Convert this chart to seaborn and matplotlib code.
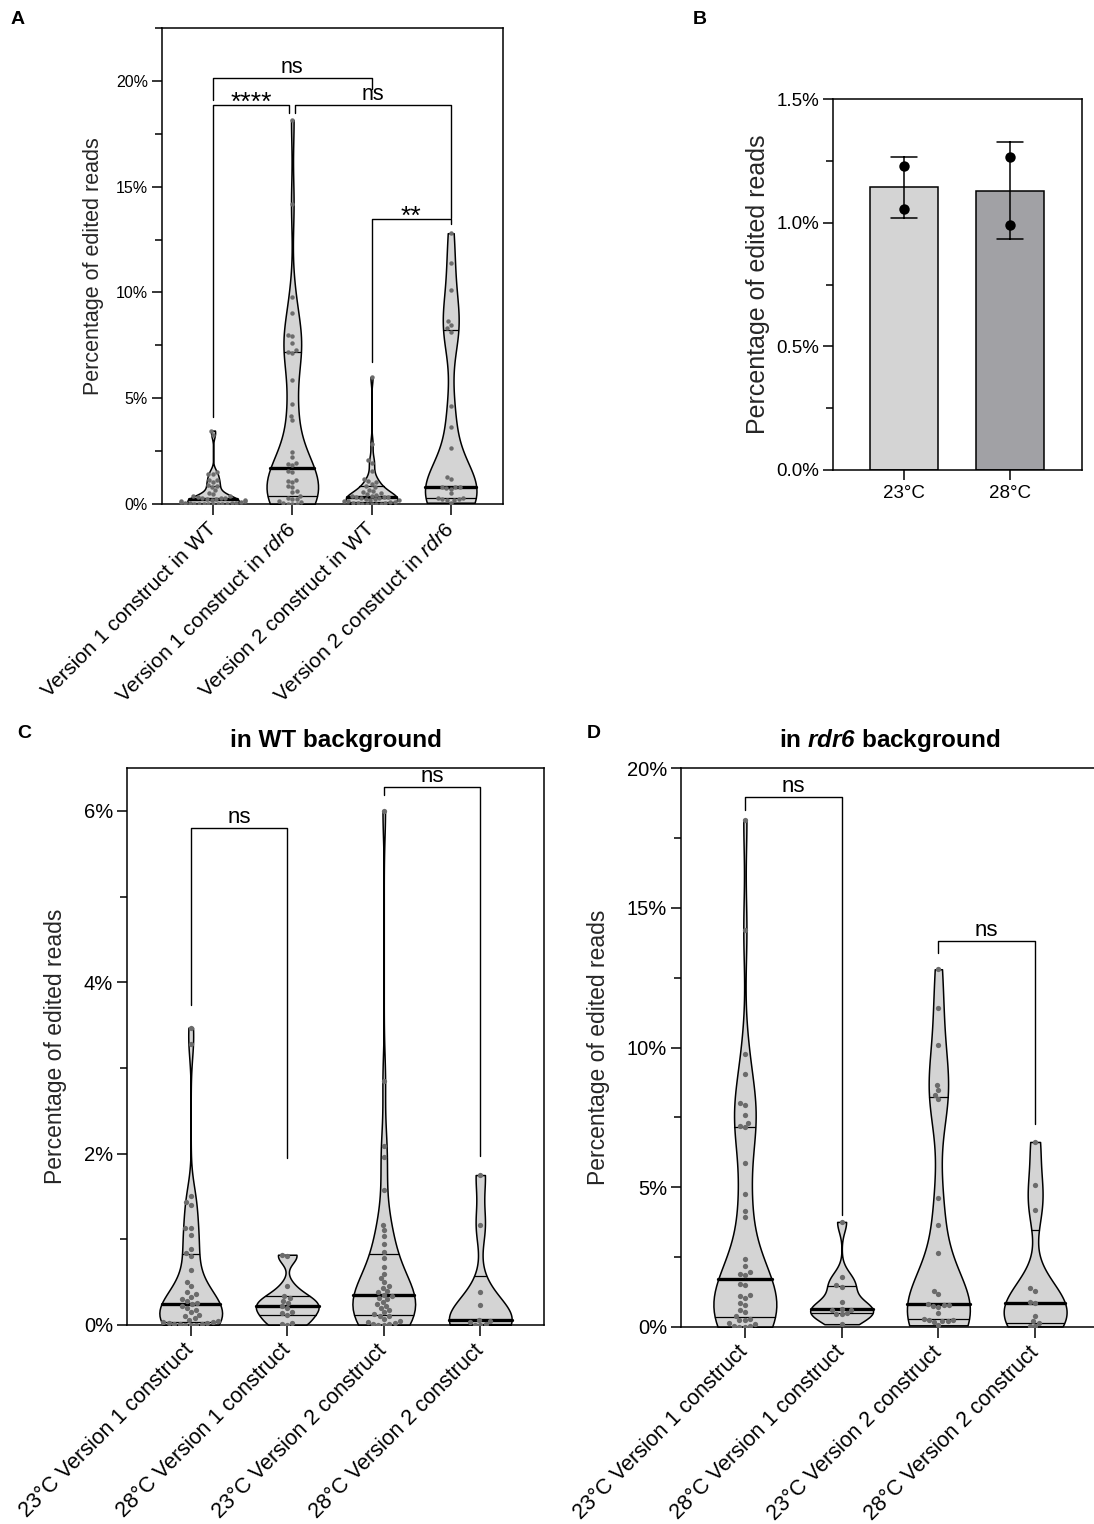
import numpy as np
import pandas as pd
import matplotlib
matplotlib.use('Agg')
import matplotlib.pyplot as plt
from matplotlib.ticker import MultipleLocator, FuncFormatter
import seaborn as sns

# percentage of edited reads (values in %)
wt_23_v1 = [0, 0, 0, 0.01, 0.01, 0.01, 0.02, 0.02, 0.03, 0.03,
            0.05, 0.06, 0.08, 0.10, 0.12, 0.15, 0.18, 0.20, 0.22, 0.24,
            0.26, 0.28, 0.30, 0.33, 0.36, 0.38, 0.45, 0.50, 0.64, 0.80,
            0.84, 0.89, 1.05, 1.13, 1.13, 1.40, 1.43, 1.50, 3.28, 3.47]
wt_28_v1 = [0.0, 0.01, 0.02, 0.12, 0.14, 0.15, 0.20, 0.22, 0.26, 0.28,
            0.32, 0.34, 0.45, 0.80, 0.82]
wt_23_v2 = [0.00, 0.00, 0.01, 0.01, 0.02, 0.03, 0.05, 0.07, 0.10, 0.11,
            0.13, 0.15, 0.17, 0.20, 0.22, 0.25, 0.27, 0.30, 0.32, 0.34,
            0.35, 0.38, 0.40, 0.43, 0.46, 0.50, 0.55, 0.60, 0.68, 0.78,
            0.85, 0.95, 1.04, 1.11, 1.17, 1.58, 1.96, 2.09, 2.85, 6.00]
wt_28_v2 = [0.0, 0.0, 0.01, 0.03, 0.05, 0.06, 0.23, 0.38, 1.17, 1.75]

rdr6_23_v1 = [0, 0, 0.02, 0.05, 0.1, 0.15, 0.24, 0.25, 0.3, 0.4,
              0.55, 0.6, 0.78, 0.86, 1.05, 1.1, 1.15, 1.5, 1.55, 1.85,
              1.9, 1.95, 2.2, 2.45, 3.95, 4.15, 4.75, 5.85, 7.15, 7.2,
              7.3, 7.6, 7.95, 8.0, 9.05, 9.77, 14.2, 18.15]
rdr6_28_v1 = [0.1, 0.45, 0.48, 0.5, 0.6, 0.62, 0.66, 0.9, 1.43, 1.5, 1.79, 3.76]
rdr6_23_v2 = [0.06, 0.18, 0.2, 0.22, 0.24, 0.26, 0.3, 0.5, 0.72, 0.76, 0.78,
              0.8, 0.82, 1.19, 1.29, 2.63, 3.64, 4.62, 8.15, 8.3, 8.47, 8.65,
              10.1, 11.4, 12.8]
rdr6_28_v2 = [0.02, 0.05, 0.14, 0.2, 0.39, 0.85, 0.9, 1.28, 1.38, 4.18, 5.08, 6.62]

# panel B: two replicates per temperature
temps = ['23°C', '28°C']
reps_23 = [1.230, 1.055]
reps_28 = [1.267, 0.991]

labels_a = ['Version 1 construct in WT', 'Version 1 construct in $\\mathit{rdr6}$',
            'Version 2 construct in WT', 'Version 2 construct in $\\mathit{rdr6}$']
labels_cd = ['23°C Version 1 construct', '28°C Version 1 construct',
             '23°C Version 2 construct', '28°C Version 2 construct']

VIOLIN = '#d4d4d4'
DOT = '#6b6b6b'
BAR_COLORS = ['#d4d4d4', '#a1a1a5']

sns.set_style('ticks')
plt.rcParams['font.family'] = ['Liberation Sans', 'DejaVu Sans']
plt.rcParams['mathtext.fontset'] = 'custom'
plt.rcParams['mathtext.rm'] = 'Liberation Sans'
plt.rcParams['mathtext.it'] = 'Liberation Sans:italic'
plt.rcParams['mathtext.bfit'] = 'Liberation Sans:italic:bold'
plt.rcParams['axes.edgecolor'] = 'black'
plt.rcParams['axes.linewidth'] = 1.1
plt.rcParams['xtick.color'] = 'black'
plt.rcParams['ytick.color'] = 'black'
plt.rcParams['text.color'] = 'black'

W, H = 1094, 1524
fig = plt.figure(figsize=(W / 100, H / 100), dpi=100)


def px_axes(left, top, right, bottom):
    return fig.add_axes([left / W, 1 - bottom / H, (right - left) / W, (bottom - top) / H])


def violins(ax, groups, names, dot_size):
    df = pd.DataFrame({'grp': np.repeat(names, [len(g) for g in groups]),
                       'val': np.concatenate(groups)})
    sns.violinplot(data=df, x='grp', y='val', order=names, ax=ax, color=VIOLIN,
                   saturation=1, linecolor='black', linewidth=1.1, cut=0,
                   bw_adjust=0.6, density_norm='width', width=0.65,
                   inner='quart', inner_kws=dict(color='black'))
    # GraphPad style: solid lines, thick median, quartiles computed the Prism way
    for i, vals in enumerate(groups):
        verts = ax.collections[i].get_paths()[0].vertices
        right = verts[verts[:, 0] >= i]
        order = np.argsort(right[:, 1])
        ys, xs = right[order, 1], right[order, 0]
        qs = np.percentile(vals, [25, 50, 75], method='weibull')
        for j, q in enumerate(qs):
            hw = np.interp(q, ys, xs) - i
            ln = ax.lines[3 * i + j]
            ln.set_data([i - hw, i + hw], [q, q])
            ln.set_linestyle('-')
            ln.set_linewidth(2.4 if j == 1 else 0.9)
    sns.swarmplot(data=df, x='grp', y='val', order=names, ax=ax, color=DOT,
                  size=dot_size, linewidth=0)
    ax.set_xlabel('')


def bracket(ax, x1, x2, y, y1, y2, text, fs, off=3.5):
    ax.plot([x1, x1, x2, x2], [y1, y, y, y2], color='black', lw=1.0, clip_on=False)
    ax.annotate(text, xy=((x1 + x2) / 2, y), xytext=(0, off), textcoords='offset points',
                ha='center', va='baseline', fontsize=fs)


def style(ax, tick_fs, minor, fmt):
    ax.yaxis.set_minor_locator(MultipleLocator(minor))
    ax.yaxis.set_major_formatter(FuncFormatter(lambda v, p: fmt.format(v)))
    ax.tick_params(axis='y', which='major', length=7, width=1.1, labelsize=tick_fs, pad=3)
    ax.tick_params(axis='y', which='minor', length=5, width=1.1)
    ax.tick_params(axis='x', which='major', length=8, width=1.1)
    for s in ax.spines.values():
        s.set_linewidth(1.1)
        s.set_color('black')


# ---------------- A
ax = px_axes(162, 28, 503, 504)
violins(ax, [wt_23_v1, rdr6_23_v1, wt_23_v2, rdr6_23_v2], labels_a, 3.2)
ax.set_ylim(0, 22.5)
ax.set_xlim(-0.645, 3.66)
ax.yaxis.set_major_locator(MultipleLocator(5))
style(ax, 11.5, 2.5, '{:.0f}%')
ax.set_xticks(range(4))
ax.set_xticklabels(labels_a, rotation=45, ha='right', rotation_mode='anchor',
                   va='center', fontsize=15)
ax.tick_params(axis='x', pad=8)
ax.set_ylabel('Percentage of edited reads', fontsize=15.5)
ax.yaxis.set_label_coords(-0.17, 0.5)
bracket(ax, 0, 2, 20.14, 19.1, 19.6, 'ns', 15.5)
bracket(ax, 0, 0.96, 18.87, 4.1, 18.5, '****', 19, off=-3.8)
bracket(ax, 1.04, 3, 18.87, 18.5, 13.5, 'ns', 15.5)
bracket(ax, 2, 3, 13.48, 6.7, 13.25, '**', 19, off=-3.8)

# ---------------- B
ax = px_axes(833, 99, 1082, 470)
dfb = pd.DataFrame({'temp': np.repeat(temps, [len(reps_23), len(reps_28)]),
                    'val': reps_23 + reps_28})
sns.barplot(data=dfb, x='temp', y='val', hue='temp', palette=BAR_COLORS, legend=False,
            saturation=1, width=0.65, edgecolor='black', linewidth=1.1,
            errorbar='sd', capsize=0.25, err_kws={'color': 'black', 'linewidth': 1.1}, ax=ax)
sns.stripplot(data=dfb, x='temp', y='val', color='black', size=7.5, jitter=False, ax=ax)
ax.set_ylim(0, 1.5)
ax.set_xlim(-0.67, 1.68)
ax.yaxis.set_major_locator(MultipleLocator(0.5))
style(ax, 13.5, 0.25, '{:.1f}%')
ax.tick_params(axis='x', labelsize=13.5, length=7, pad=4)
ax.set_xlabel('')
ax.set_ylabel('Percentage of edited reads', fontsize=18)
ax.yaxis.set_label_coords(-0.253, 0.5)

# ---------------- C
ax = px_axes(127, 768, 544, 1325)
violins(ax, [wt_23_v1, wt_28_v1, wt_23_v2, wt_28_v2], labels_cd, 3.8)
ax.set_ylim(0, 6.5)
ax.set_xlim(-0.66, 3.66)
ax.yaxis.set_major_locator(MultipleLocator(2))
style(ax, 14.5, 1, '{:.0f}%')
ax.set_xticks(range(4))
ax.set_xticklabels(labels_cd, rotation=45, ha='right', rotation_mode='anchor',
                   va='center', fontsize=15.5)
ax.tick_params(axis='x', pad=8)
ax.set_ylabel('Percentage of edited reads', fontsize=16.5)
ax.yaxis.set_label_coords(-0.143, 0.5)
ax.set_title('in WT background', fontsize=17.5, fontweight='bold', pad=15)
bracket(ax, 0, 1, 5.8, 3.74, 1.95, 'ns', 16)
bracket(ax, 2, 3, 6.28, 6.19, 1.97, 'ns', 16)

# ---------------- D
ax = px_axes(681, 768, 1099, 1327)
violins(ax, [rdr6_23_v1, rdr6_28_v1, rdr6_23_v2, rdr6_28_v2], labels_cd, 3.8)
ax.set_ylim(0, 20)
ax.set_xlim(-0.66, 3.66)
ax.yaxis.set_major_locator(MultipleLocator(5))
style(ax, 14.5, 2.5, '{:.0f}%')
ax.spines['right'].set_visible(False)
ax.set_xticks(range(4))
ax.set_xticklabels(labels_cd, rotation=45, ha='right', rotation_mode='anchor',
                   va='center', fontsize=15.5)
ax.tick_params(axis='x', pad=8)
ax.set_ylabel('Percentage of edited reads', fontsize=16.5)
ax.yaxis.set_label_coords(-0.169, 0.5)
ax.set_title('in $\\mathbfit{rdr6}$ background', fontsize=17.5, fontweight='bold', pad=15)
bracket(ax, 0, 1, 18.97, 18.5, 4.0, 'ns', 16)
bracket(ax, 2, 3, 13.8, 13.37, 7.27, 'ns', 16)

# panel letters
for letter, x, y in [('A', 18, 20), ('B', 700, 20), ('C', 24, 734), ('D', 594, 733)]:
    fig.text(x / W, 1 - y / H, letter, fontsize=14, fontweight='bold', ha='center', va='center')

fig.savefig('out.png', dpi=100)
